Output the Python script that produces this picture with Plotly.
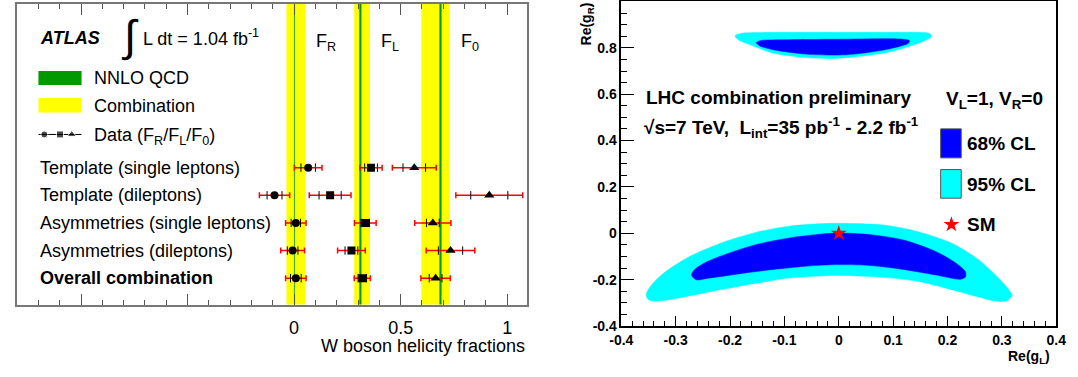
import plotly.graph_objects as go

W, H = 1078, 377

# ---------------- Left panel data: W boson helicity fractions ----------------
rows = ["Template (single leptons)", "Template (dileptons)",
        "Asymmetries (single leptons)", "Asymmetries (dileptons)",
        "Overall combination"]
row_pos = [5, 4, 3, 2, 1]

fr_val = [0.066, -0.092, 0.008, -0.007, 0.008]
fr_tot = [0.065, 0.071, 0.048, 0.056, 0.048]
fr_stat = [0.034, 0.035, 0.022, 0.025, 0.025]

fl_val = [0.361, 0.169, 0.334, 0.269, 0.320]
fl_tot = [0.052, 0.098, 0.051, 0.065, 0.038]
fl_stat = [0.030, 0.052, 0.020, 0.030, 0.020]

f0_val = [0.564, 0.916, 0.651, 0.734, 0.664]
f0_tot = [0.103, 0.157, 0.085, 0.114, 0.069]
f0_stat = [0.053, 0.087, 0.030, 0.057, 0.030]

comb_center = [0.008, 0.319, 0.664]   # F_R, F_L, F_0 combination
comb_half = [0.044, 0.037, 0.067]
nnlo_val = [0.0017, 0.311, 0.687]
nnlo_half = [0.0002, 0.005, 0.005]
frac_labels = ["F<sub>R</sub>", "F<sub>L</sub>", "F<sub>0</sub>"]

left_tickvals = [-1, -0.5, 0, 0.5, 1]
left_ticktext = ["", "", "0", "0.5", "1"]

# ---------------- Right panel data: anomalous couplings ----------------
low95_x = [-0.354, -0.343, -0.319, -0.271, -0.211, -0.151, -0.091, -0.019, 0.029, 0.089,
           0.149, 0.209, 0.257, 0.293, 0.314, 0.319, 0.308, 0.287, 0.269, 0.209, 0.149,
           0.089, -0.001, -0.091, -0.151, -0.211, -0.271, -0.319, -0.343, -0.352]
low95_y = [-0.261, -0.219, -0.166, -0.096, -0.037, 0.005, 0.031, 0.043, 0.042, 0.034,
           0.005, -0.044, -0.114, -0.191, -0.247, -0.268, -0.292, -0.292, -0.282, -0.244,
           -0.209, -0.191, -0.182, -0.193, -0.215, -0.240, -0.268, -0.289, -0.292, -0.282]

low68_x = [-0.271, -0.265, -0.241, -0.211, -0.151, -0.091, -0.031, -0.001, 0.059, 0.119,
           0.179, 0.215, 0.233, 0.233, 0.224, 0.179, 0.119, 0.059, -0.001, -0.061, -0.121,
           -0.181, -0.241, -0.262]
low68_y = [-0.180, -0.156, -0.121, -0.093, -0.048, -0.020, -0.003, 0.001, -0.006, -0.029,
           -0.079, -0.128, -0.166, -0.188, -0.198, -0.180, -0.156, -0.139, -0.135, -0.142,
           -0.156, -0.174, -0.194, -0.201]

up95_x = [-0.191, -0.181, -0.151, -0.091, -0.001, 0.089, 0.149, 0.167, 0.171, 0.161,
          0.119, 0.089, -0.001, -0.061, -0.121, -0.163, -0.184]
up95_y = [0.851, 0.862, 0.866, 0.867, 0.867, 0.867, 0.867, 0.862, 0.851, 0.834,
          0.799, 0.780, 0.755, 0.758, 0.778, 0.813, 0.834]

up68_x = [-0.152, -0.145, -0.121, -0.001, 0.113, 0.130, 0.128, 0.089, 0.029, -0.001,
          -0.061, -0.121, -0.145]
up68_y = [0.822, 0.831, 0.834, 0.837, 0.838, 0.831, 0.820, 0.794, 0.773, 0.769,
          0.773, 0.792, 0.808]

sm_x = [0.0]
sm_y = [0.0]

right_xticks = [-0.4, -0.3, -0.2, -0.1, 0, 0.1, 0.2, 0.3, 0.4]
right_xtext = ["-0.4", "-0.3", "-0.2", "-0.1", "0", "0.1", "0.2", "0.3", "0.4"]
right_yticks = [-0.4, -0.2, 0, 0.2, 0.4, 0.6, 0.8, 1.0]
right_ytext = ["-0.4", "-0.2", "0", "0.2", "0.4", "0.6", "0.8", "1"]

CYAN = "#00ffff"
BLUE = "#0000ff"
GREEN = "#009a00"
YELLOW = "#ffff00"
FONT = "Liberation Sans, Arial, Helvetica, sans-serif"

# ---------------- layout geometry (pixels) ----------------
L_X0, L_X1, L_Y0, L_Y1 = 5, 526, 3, 311
R_X0, R_X1, R_Y0, R_Y1 = 622, 1066, 0.5, 333


def px(x):
    return x / W


def py(y):
    return 1 - y / H


LX_ZERO, LX_SCALE = 288.0, 217.5
L_RANGE = [(L_X0 - LX_ZERO) / LX_SCALE, (L_X1 - LX_ZERO) / LX_SCALE]
ROW_Y1, ROW_PITCH = 284.0, 28.325
L_YRANGE = [1 - (L_Y1 - ROW_Y1) / ROW_PITCH, 1 + (ROW_Y1 - L_Y0) / ROW_PITCH]


def lx(p):
    return (p - LX_ZERO) / LX_SCALE


def ly(p):
    return 1 + (ROW_Y1 - p) / ROW_PITCH


def rx(p):
    return -0.4 + (p - R_X0) / (R_X1 - R_X0) * 0.8


def ry(p):
    return 1.0 - (p - R_Y0) / (R_Y1 - R_Y0) * 1.4


fig = go.Figure()

# ---- left: data points ----
sym = ["circle", "square", "triangle-up"]
sizes = [8, 8, 9]
for vals, tot, stat, s, sz in [(fr_val, fr_tot, fr_stat, sym[0], sizes[0]),
                               (fl_val, fl_tot, fl_stat, sym[1], sizes[1]),
                               (f0_val, f0_tot, f0_stat, sym[2], sizes[2])]:
    fig.add_trace(go.Scatter(
        x=vals, y=row_pos, mode="markers", xaxis="x", yaxis="y",
        marker=dict(symbol=s, size=sz, color="black"),
        error_x=dict(type="data", array=tot, color="#ff0000", thickness=1.5, width=3),
        showlegend=False, hoverinfo="skip"))
    sx, sy = [], []
    for v, st, r in zip(vals, stat, row_pos):
        sx += [v - st, v + st]
        sy += [r, r]
    fig.add_trace(go.Scatter(
        x=sx, y=sy, mode="markers", xaxis="x", yaxis="y",
        marker=dict(symbol="line-ns", size=6, line=dict(color="black", width=1)),
        showlegend=False, hoverinfo="skip"))

# legend marker sample (Data)
fig.add_trace(go.Scatter(
    x=[lx(27), lx(71)], y=[ly(136.7), ly(136.7)], mode="lines", xaxis="x", yaxis="y",
    line=dict(color="black", width=1), showlegend=False, hoverinfo="skip"))
fig.add_trace(go.Scatter(
    x=[lx(33), lx(49), lx(61)], y=[ly(136.7)] * 3, mode="markers", xaxis="x", yaxis="y",
    marker=dict(symbol=sym, size=[7, 7, 8], color="black"),
    showlegend=False, hoverinfo="skip"))

# ---- right: contours ----
for xs, ys, col in [(low95_x, low95_y, CYAN), (low68_x, low68_y, BLUE),
                    (up95_x, up95_y, CYAN), (up68_x, up68_y, BLUE)]:
    fig.add_trace(go.Scatter(
        x=xs + [xs[0]], y=ys + [ys[0]], mode="lines", fill="toself",
        fillcolor=col, line=dict(color=col, width=0.5, shape="spline", smoothing=0.8),
        xaxis="x2", yaxis="y2", showlegend=False, hoverinfo="skip"))

fig.add_trace(go.Scatter(
    x=sm_x, y=sm_y, mode="markers", xaxis="x2", yaxis="y2",
    marker=dict(symbol="star", size=12, color="#ff0000", line=dict(width=0)),
    showlegend=False, hoverinfo="skip"))
fig.add_trace(go.Scatter(
    x=[rx(959)], y=[ry(229)], mode="markers", xaxis="x2", yaxis="y2",
    marker=dict(symbol="star", size=12, color="#ff0000", line=dict(width=0)),
    showlegend=False, hoverinfo="skip"))

shapes = []
for c, h in zip(comb_center, comb_half):
    shapes.append(dict(type="rect", xref="x", yref="y domain", x0=c - h, x1=c + h,
                       y0=0, y1=1, fillcolor=YELLOW, line=dict(width=0), layer="below"))
for i, (c, h) in enumerate(zip(nnlo_val, nnlo_half)):
    if i == 0:
        shapes.append(dict(type="line", xref="x", yref="y domain", x0=c, x1=c, y0=0, y1=1,
                           line=dict(color="#3fae3f", width=1.2), layer="below"))
    else:
        shapes.append(dict(type="rect", xref="x", yref="y domain", x0=c - h, x1=c + h,
                           y0=0, y1=1, fillcolor=GREEN, line=dict(width=0), layer="below"))
shapes.append(dict(type="rect", xref="paper", yref="paper", x0=px(27), x1=px(71),
                   y0=py(86), y1=py(71.7), fillcolor=GREEN, line=dict(width=0)))
shapes.append(dict(type="rect", xref="paper", yref="paper", x0=px(27), x1=px(71),
                   y0=py(114.3), y1=py(99.3), fillcolor=YELLOW, line=dict(width=0)))
shapes.append(dict(type="rect", xref="paper", yref="paper", x0=px(948), x1=px(969),
                   y0=py(160.7), y1=py(131), fillcolor=BLUE, line=dict(color="#555", width=1)))
shapes.append(dict(type="rect", xref="paper", yref="paper", x0=px(948), x1=px(969),
                   y0=py(202), y1=py(172.7), fillcolor=CYAN, line=dict(color="#555", width=1)))

ann = []


def text(x, y, s, size=18, bold=False, italic=False, xanchor="left", yanchor="middle",
         angle=0, xref="paper", yref="paper"):
    ann.append(dict(x=x, y=y, xref=xref, yref=yref, text=s, showarrow=False,
                    xanchor=xanchor, yanchor=yanchor, textangle=angle,
                    font=dict(family=FONT, size=size, color="black",
                              weight="bold" if bold else "normal",
                              style="italic" if italic else "normal")))


for r, p in zip(rows, row_pos):
    text(px(27), p, r, size=18, bold=(r == "Overall combination"), yref="y")
text(px(27), py(38), "ATLAS", size=18, bold=True, italic=True)
text(px(120), py(36), "∫", size=44, xanchor="center")
text(px(132), py(37), "L dt = 1.04 fb<sup>-1</sup>", size=18)
for lab, xp in zip(frac_labels, [308, 375, 456]):
    text(px(xp), py(43), lab, size=18)
text(px(82), py(79), "NNLO QCD", size=18)
text(px(82), py(107.5), "Combination", size=18)
text(px(82), py(139), "Data (F<sub>R</sub>/F<sub>L</sub>/F<sub>0</sub>)", size=18)
text(px(526), py(353), "W boson helicity fractions", size=18, xanchor="right")

text(px(782), py(99), "LHC combination preliminary", size=19, bold=True, xanchor="center")
text(px(643), py(130), "√s=7 TeV,  L<sub>int</sub>=35 pb<sup>-1</sup> - 2.2 fb<sup>-1</sup>",
     size=19, bold=True)
text(px(951), py(101), "V<sub>L</sub>=1, V<sub>R</sub>=0", size=19, bold=True)
text(px(973), py(146), "68% CL", size=19, bold=True)
text(px(973), py(188), "95% CL", size=19, bold=True)
text(px(973), py(229), "SM", size=19, bold=True)
text(px(587), py(24), "Re(g<sub>R</sub>)", size=14, bold=True, xanchor="center", angle=-90)
text(px(1062), py(365), "Re(g<sub>L</sub>)", size=14, bold=True, xanchor="right")

fig.update_layout(
    width=W, height=H, margin=dict(l=0, r=0, t=0, b=0),
    paper_bgcolor="white", plot_bgcolor="white", showlegend=False,
    shapes=shapes, annotations=ann,
    xaxis=dict(domain=[px(L_X0), px(L_X1)], range=L_RANGE, showgrid=False, zeroline=False,
               showline=True, linecolor="#777", linewidth=1.5, mirror="ticks",
               ticks="inside", ticklen=11, tickwidth=1, tickcolor="#555",
               tickvals=left_tickvals, ticktext=left_ticktext,
               tickfont=dict(family=FONT, size=18, color="black"),
               minor=dict(ticks="inside", dtick=0.1, tick0=0, ticklen=5, tickcolor="#555",
                          showgrid=False),
               ticklabelstandoff=6),
    yaxis=dict(domain=[py(L_Y1), py(L_Y0)], range=L_YRANGE, showgrid=False, zeroline=False,
               showline=True, linecolor="#777", linewidth=1.5, mirror=True,
               showticklabels=False, ticks=""),
    xaxis2=dict(domain=[px(R_X0), px(R_X1)], range=[-0.4, 0.4], anchor="y2",
                showgrid=False, zeroline=False, showline=True, linecolor="black",
                linewidth=1.5, mirror=True, ticks="inside", ticklen=10, tickwidth=1.2,
                tickcolor="black", tickvals=right_xticks, ticktext=right_xtext,
                tickfont=dict(family=FONT, size=14, color="black", weight="bold"),
                minor=dict(ticks="inside", dtick=0.02, tick0=0, ticklen=5,
                           tickcolor="black", showgrid=False)),
    yaxis2=dict(domain=[py(R_Y1), py(R_Y0)], range=[-0.4, 1.0], anchor="x2",
                showgrid=False, zeroline=False, showline=True, linecolor="black",
                linewidth=1.5, mirror=True, ticks="inside", ticklen=13, tickwidth=1.2,
                tickcolor="black", tickvals=right_yticks, ticktext=right_ytext,
                tickfont=dict(family=FONT, size=14, color="black", weight="bold"),
                minor=dict(ticks="inside", dtick=0.05, tick0=0, ticklen=6,
                           tickcolor="black", showgrid=False)),
)

fig.write_html("out.html", config={"displayModeBar": False},
               post_script="document.body.style.margin='0';document.body.style.padding='0';"
                           "document.documentElement.style.overflow='hidden';"
                           "document.body.style.overflow='hidden';")
